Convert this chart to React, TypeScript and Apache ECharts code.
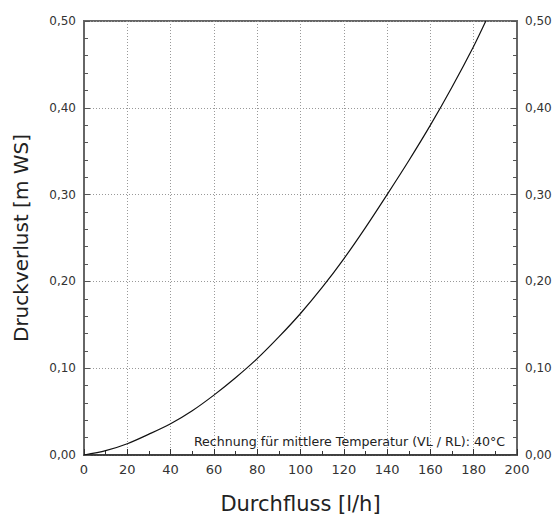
import React, { useEffect, useRef } from "react";
import * as echarts from "echarts";

const flow = [0, 10, 20, 30, 40, 50, 60, 70, 80, 90, 100, 110, 120, 130, 140, 150, 160, 170, 180, 185.6];
const pressure = [0, 0.005, 0.013, 0.024, 0.036, 0.051, 0.069, 0.089, 0.111, 0.136, 0.163, 0.193, 0.226, 0.262, 0.3, 0.339, 0.38, 0.424, 0.471, 0.5];
const xTitle = "Durchfluss [l/h]";
const yTitle = "Druckverlust [m WS]";
const note = "Rechnung für mittlere Temperatur (VL / RL): 40°C";

const fmt = (v: number) => v.toFixed(2).replace(".", ",");

export default function App() {
  const ref = useRef<HTMLDivElement>(null);
  useEffect(() => {
    if (!ref.current) return;
    const chart = echarts.init(ref.current, null, { renderer: "svg" });
    const font = "'DejaVu Sans', sans-serif";
    const yCommon = {
      type: "value" as const,
      min: 0,
      max: 0.5,
      interval: 0.1,
      axisLine: { show: true, lineStyle: { color: "#666", width: 2 } },
      axisTick: { show: true, inside: true, length: 6, lineStyle: { color: "#555" } },
      minorTick: { show: true, splitNumber: 5, length: 4, lineStyle: { color: "#555" } },
      axisLabel: { formatter: fmt, color: "#333", fontSize: 12, fontFamily: font, margin: 8 },
    };
    chart.setOption({
      animation: false,
      grid: {
        left: 84,
        right: 41,
        top: 21,
        bottom: 62,
        show: true,
        borderColor: "#666",
        borderWidth: 2,
        outerBoundsMode: "none",
        containLabel: false,
      },
      xAxis: {
        type: "value",
        min: 0,
        max: 200,
        interval: 20,
        name: xTitle,
        nameLocation: "middle",
        nameGap: 38,
        nameTextStyle: { fontSize: 21, color: "#222", fontFamily: font },
        axisLine: { show: true, lineStyle: { color: "#333", width: 1.5 } },
        axisTick: { show: true, inside: true, length: 6, lineStyle: { color: "#333" } },
        minorTick: { show: true, splitNumber: 2, length: 4, lineStyle: { color: "#333" } },
        axisLabel: { color: "#333", fontSize: 13, fontFamily: font, margin: 8 },
        splitLine: { show: true, lineStyle: { color: "#999", type: [1, 2], width: 1 } },
      },
      yAxis: [
        {
          ...yCommon,
          position: "left",
          name: yTitle,
          nameLocation: "middle",
          nameGap: 53,
          nameTextStyle: { fontSize: 20, color: "#222", fontFamily: font },
          splitLine: { show: true, lineStyle: { color: "#999", type: [1, 2], width: 1 } },
        },
        {
          ...yCommon,
          position: "right",
          splitLine: { show: false },
        },
      ],
      graphic: [
        {
          type: "text",
          right: 53,
          top: 435,
          style: { text: note, fontSize: 12.6, fill: "#222", fontFamily: font },
        },
      ],
      series: [
        {
          type: "line",
          data: flow.map((x, i) => [x, pressure[i]]),
          showSymbol: false,
          smooth: 0.3,
          lineStyle: { color: "#111", width: 1.2 },
          yAxisIndex: 0,
        },
      ],
    });
    return () => chart.dispose();
  }, []);
  return <div ref={ref} style={{ position: "absolute", left: 0, top: 0, width: 558, height: 517 }} />;
}
